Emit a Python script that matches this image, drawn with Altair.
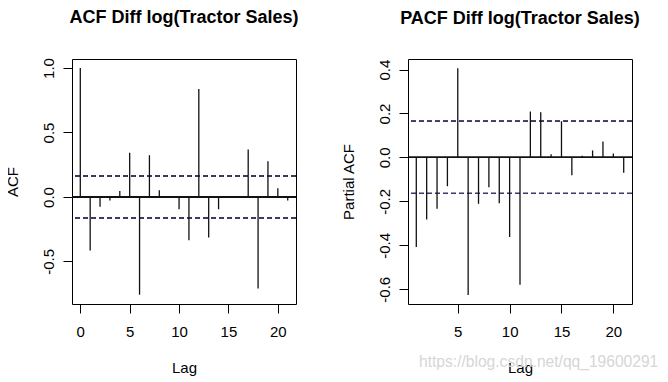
import altair as alt
import pandas as pd

# ---- data ----
acf_lags = list(range(0, 22))
acf_vals = [1.0, -0.415, -0.075, -0.028, 0.047, 0.342, -0.758, 0.324, 0.052, -0.004,
            -0.095, -0.335, 0.837, -0.314, -0.095, -0.003, 0.008, 0.368, -0.709, 0.277,
            0.067, -0.028]
pacf_lags = list(range(1, 22))
pacf_vals = [-0.408, -0.283, -0.233, -0.131, 0.406, -0.626, -0.211, -0.136, -0.208, -0.362,
             -0.579, 0.209, 0.206, 0.014, 0.165, -0.081, 0.008, 0.032, 0.072, 0.018, -0.070]
conf_bound = 0.164
acf_xticks = [0, 5, 10, 15, 20]
acf_yticks = [-0.5, 0.0, 0.5, 1.0]
pacf_xticks = [5, 10, 15, 20]
pacf_yticks = [-0.6, -0.4, -0.2, 0.0, 0.2, 0.4]
watermark = "https://blog.csdn.net/qq_19600291"

FONT = "Liberation Sans"
W, H = 224, 245
LABEL_EXPR = "(datum.value < 0 ? '-' : '') + format(abs(datum.value), '.1f')"


def panel(lags, vals, xdom, ydom, xticks, yticks, ytitle, title, wm=False):
    df = pd.DataFrame({"lag": lags, "val": vals})
    base = alt.Chart(df)
    stems = base.mark_rule(color="#111111", strokeWidth=1.3).encode(
        x=alt.X("lag:Q",
                scale=alt.Scale(domain=xdom, nice=False, zero=False),
                axis=alt.Axis(values=xticks, title="Lag", format="d",
                              labelBaseline="alphabetic", labelPadding=23.5,
                              labelFlush=False, titleBaseline="alphabetic",
                              titleY=68.7, titleX=W / 2)),
        y=alt.Y("val:Q",
                scale=alt.Scale(domain=ydom, nice=False, zero=False),
                axis=alt.Axis(values=yticks, title=ytitle, labelExpr=LABEL_EXPR,
                              labelAngle=270, labelAlign="center",
                              labelBaseline="alphabetic", labelPadding=10,
                              labelFlush=False, labelOverlap=False,
                              titleAngle=270, titleAlign="center",
                              titleBaseline="alphabetic", titleX=-55, titleY=H / 2)),
        y2=alt.datum(0),
    )
    zero = base.mark_rule(color="#111111", strokeWidth=1).encode(y=alt.datum(0))
    up = base.mark_rule(color="#3b3b66", strokeWidth=1, strokeDash=[5, 3]).encode(
        y=alt.datum(conf_bound))
    lo = base.mark_rule(color="#3b3b66", strokeWidth=1, strokeDash=[5, 3]).encode(
        y=alt.datum(-conf_bound))
    layers = [zero, up, lo, stems]
    if wm:
        wdf = pd.DataFrame({"t": [watermark]})
        text = alt.Chart(wdf).mark_text(
            align="left", baseline="alphabetic", font=FONT, fontSize=15.6,
            color="#d6d6d6").encode(x=alt.value(11), y=alt.value(308.3), text="t:N")
        layers = [text] + layers
    return alt.layer(*layers).properties(
        width=W, height=H,
        title=alt.TitleParams(title, font=FONT, fontSize=18, fontWeight="bold",
                              color="black", anchor="middle", baseline="alphabetic",
                              offset=17, frame="group"),
    )


left = panel(acf_lags, acf_vals, [-0.84, 21.84], [-0.83, 1.07], acf_xticks, acf_yticks,
             "ACF", "ACF Diff log(Tractor Sales)")
right = panel(pacf_lags, pacf_vals, [0.2, 21.8], [-0.667, 0.448], pacf_xticks, pacf_yticks,
              "Partial ACF", "PACF Diff log(Tractor Sales)", wm=True)

chart = alt.hconcat(left, right, spacing=112, bounds="flush").properties(
    padding={"left": -4, "top": 0, "right": 0, "bottom": 0},
    background="white",
).configure_view(
    stroke="black", strokeWidth=1
).configure_axis(
    domain=False, grid=False, ticks=True, tickSize=9, tickColor="black", tickWidth=1,
    labelFont=FONT, labelFontSize=15, labelColor="black",
    titleFont=FONT, titleFontSize=15, titleColor="black", titleFontWeight="normal",
)

chart.save("out.html", embed_options={"renderer": "svg", "actions": False})
